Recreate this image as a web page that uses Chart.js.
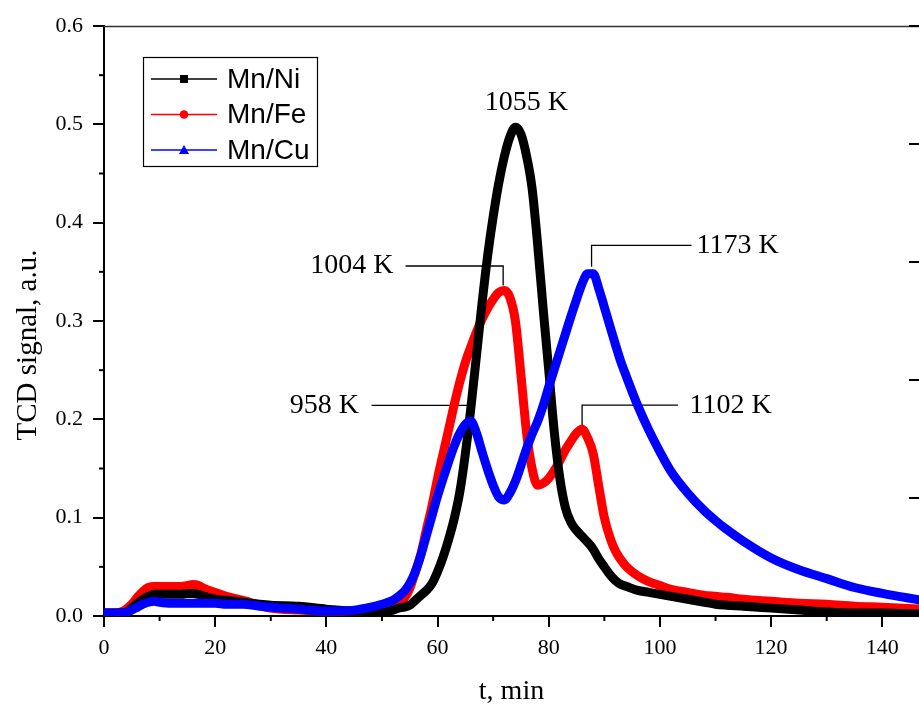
<!DOCTYPE html>
<html>
<head>
<meta charset="utf-8">
<script src="https://cdn.jsdelivr.net/npm/chart.js@4.4.1/dist/chart.umd.min.js"></script>
<style>
  html, body { margin: 0; padding: 0; background: #ffffff; }
  #wrap { width: 919px; height: 706px; }
</style>
</head>
<body>
<div id="wrap"><canvas id="tpr" width="919" height="706"></canvas></div>
<script>
// Time axis, min
const timeMin = [0,2,3,4,5,6,7,8,9,10,12,14,15,16,17,18,20,22,25,28,30,35,40,45,48,50,52,53,54,55,56,57,58,59,
  60,61,62,63,64,65,66,67,68,69,70,71,72,73,74,75,76,77,78,79,80,81,82,83,84,85,86,87,88,89,90,91,92,93,94,
  96,98,100,102,105,108,110,112,115,120,125,130,135,140,147];

// TCD signal, a.u.
const mnNi = [0.003,0.003,0.003,0.004,0.008,0.013,0.017,0.020,0.022,0.022,0.022,0.022,0.023,0.023,0.022,0.020,0.017,0.016,0.014,0.012,0.011,0.010,0.007,0.005,0.005,0.004,0.006,0.008,0.009,0.011,0.016,0.021,0.026,0.033,
  0.045,0.060,0.078,0.099,0.126,0.165,0.212,0.265,0.318,0.366,0.406,0.440,0.467,0.487,0.497,0.490,0.468,0.435,0.378,0.312,0.250,0.187,0.140,0.110,0.095,0.087,0.081,0.075,0.068,0.058,0.050,0.042,0.036,0.032,0.030,
  0.026,0.024,0.022,0.020,0.017,0.014,0.012,0.011,0.010,0.008,0.006,0.004,0.003,0.003,0.002];

const mnFe = [0.003,0.003,0.004,0.007,0.012,0.019,0.025,0.029,0.030,0.030,0.030,0.030,0.031,0.032,0.031,0.028,0.024,0.020,0.016,0.011,0.008,0.006,0.005,0.005,0.006,0.008,0.011,0.014,0.018,0.028,0.045,0.063,0.088,0.112,
  0.140,0.165,0.190,0.215,0.238,0.258,0.274,0.289,0.302,0.313,0.322,0.329,0.331,0.324,0.300,0.245,0.187,0.150,0.133,0.135,0.140,0.148,0.158,0.169,0.178,0.186,0.190,0.181,0.165,0.132,0.100,0.080,0.066,0.057,0.050,
  0.041,0.035,0.031,0.027,0.024,0.021,0.020,0.019,0.017,0.015,0.013,0.012,0.010,0.009,0.007];

const mnCu = [0.003,0.003,0.003,0.004,0.006,0.009,0.012,0.014,0.015,0.014,0.013,0.013,0.013,0.013,0.013,0.013,0.013,0.012,0.012,0.010,0.009,0.007,0.005,0.006,0.009,0.012,0.016,0.020,0.025,0.033,0.045,0.062,0.082,0.102,
  0.122,0.140,0.157,0.173,0.186,0.195,0.198,0.186,0.167,0.149,0.133,0.121,0.118,0.125,0.137,0.153,0.170,0.185,0.198,0.214,0.233,0.251,0.269,0.287,0.305,0.322,0.338,0.348,0.348,0.333,0.314,0.295,0.276,0.258,0.243,
  0.214,0.189,0.167,0.147,0.125,0.107,0.097,0.088,0.076,0.059,0.047,0.038,0.029,0.023,0.016];

const seriesNames = ['Mn/Ni', 'Mn/Fe', 'Mn/Cu'];

// Peak temperatures marked on the curves
const peakLabels = ['1055 K', '1004 K', '958 K', '1173 K', '1102 K'];
const peakTimes  = [74.1, 71.8, 65.5, 87.7, 86.0];
const peakValues = [0.497, 0.331, 0.198, 0.348, 0.190];

// Axis ranges
const xRange = [0, 146.6];
const yRange = [0, 0.6];
const rightAxisRange = [0, 5];

const SERIF = '"Liberation Serif", "Times New Roman", serif';
const SANS = '"Liberation Sans", Arial, sans-serif';

function pts(values) {
  return values.map((v, i) => ({ x: timeMin[i], y: v }));
}

// Leader lines for the peak labels: side, gap above peak, rise, run
const leaderStyle = [
  { side: 'none',  rise: 25, dx: 10.5 },
  { side: 'left',  gap: 5, rise: 24.5, run: 97.6, pad: 12 },
  { side: 'left',  gap: 2, rise: 16,   run: 96.6, pad: 12.5 },
  { side: 'right', gap: 7, rise: 28.5, run: 100,  pad: 5 },
  { side: 'right', gap: 3, rise: 24,   run: 96,   pad: 11.5 }
];

const framePlugin = {
  id: 'frame',
  beforeDatasetsDraw(chart) {
    const { ctx, scales } = chart;
    const xs = scales.x, ys = scales.y;
    ctx.save();
    // peak leader lines
    ctx.strokeStyle = '#000';
    ctx.lineWidth = 1.3;
    peakLabels.forEach((lab, i) => {
      const st = leaderStyle[i];
      if (st.side === 'none') return;
      const px = xs.getPixelForValue(peakTimes[i]);
      const py = ys.getPixelForValue(peakValues[i]);
      const ly = py - st.rise;
      const ex = st.side === 'left' ? px - st.run : px + st.run;
      ctx.beginPath();
      ctx.moveTo(px, py - st.gap);
      ctx.lineTo(px, ly);
      ctx.lineTo(ex, ly);
      ctx.stroke();
    });
    ctx.restore();
  },
  afterDatasetsDraw(chart) {
    const { ctx, chartArea: a, scales } = chart;
    const xs = scales.x, ys = scales.y, yr = scales.y2;
    ctx.save();
    // top frame line
    ctx.strokeStyle = '#333';
    ctx.lineWidth = 1.3;
    ctx.beginPath();
    ctx.moveTo(a.left, a.top + 0.5);
    ctx.lineTo(a.right, a.top + 0.5);
    ctx.stroke();

    // minor ticks
    ctx.strokeStyle = '#000';
    ctx.lineWidth = 2;
    for (let v = 10; v < xRange[1]; v += 20) {
      const x = xs.getPixelForValue(v);
      ctx.beginPath(); ctx.moveTo(x, a.bottom); ctx.lineTo(x, a.bottom + 5); ctx.stroke();
    }
    for (let v = 0.05; v < yRange[1]; v += 0.1) {
      const y = ys.getPixelForValue(v);
      ctx.beginPath(); ctx.moveTo(a.left, y); ctx.lineTo(a.left - 5, y); ctx.stroke();
    }
    // right axis ticks (inward)
    yr.ticks.forEach(t => {
      const y = yr.getPixelForValue(t.value);
      ctx.beginPath(); ctx.moveTo(a.right, y); ctx.lineTo(a.right - 10, y); ctx.stroke();
    });

    // peak labels
    ctx.fillStyle = '#000';
    ctx.font = '28px ' + SERIF;
    ctx.textBaseline = 'middle';
    peakLabels.forEach((lab, i) => {
      const st = leaderStyle[i];
      const px = xs.getPixelForValue(peakTimes[i]);
      const py = ys.getPixelForValue(peakValues[i]);
      const ly = py - st.rise;
      if (st.side === 'none') {
        ctx.textAlign = 'center';
        ctx.fillText(lab, px + st.dx, ly);
      } else if (st.side === 'left') {
        ctx.textAlign = 'right';
        ctx.fillText(lab, px - st.run - st.pad, ly);
      } else {
        ctx.textAlign = 'left';
        ctx.fillText(lab, px + st.run + st.pad, ly);
      }
    });

    // y axis title
    ctx.save();
    ctx.translate(28, (a.top + a.bottom) / 2 + 24);
    ctx.rotate(-Math.PI / 2);
    ctx.textAlign = 'center';
    ctx.textBaseline = 'middle';
    ctx.font = '29px ' + SERIF;
    ctx.fillText('TCD signal, a.u.', 0, 0);
    ctx.restore();

    // legend
    const bx = a.left + 39, by = a.top + 31, bw = 174, bh = 109;
    ctx.fillStyle = '#fff';
    ctx.fillRect(bx, by, bw, bh);
    ctx.strokeStyle = '#000';
    ctx.lineWidth = 1.2;
    ctx.strokeRect(bx + 0.5, by + 0.5, bw, bh);
    chart.data.datasets.forEach((ds, i) => {
      const ry = by + 22 + i * 35.5;
      const lx0 = bx + 8, lx1 = bx + 74, mx = bx + 41;
      ctx.strokeStyle = ds.borderColor;
      ctx.lineWidth = 1.5;
      ctx.beginPath(); ctx.moveTo(lx0, ry); ctx.lineTo(lx1, ry); ctx.stroke();
      ctx.fillStyle = ds.borderColor;
      ctx.beginPath();
      if (i === 0) {
        ctx.rect(mx - 4, ry - 4, 8, 8);
      } else if (i === 1) {
        ctx.arc(mx, ry, 4.3, 0, Math.PI * 2);
      } else {
        ctx.moveTo(mx, ry - 5); ctx.lineTo(mx + 5, ry + 4); ctx.lineTo(mx - 5, ry + 4); ctx.closePath();
      }
      ctx.fill();
      ctx.fillStyle = '#000';
      ctx.font = '28px ' + SANS;
      ctx.textAlign = 'left';
      ctx.textBaseline = 'middle';
      ctx.fillText(ds.label, bx + 84, ry + 1);
    });
    ctx.restore();
  }
};

const lineStyle = { pointRadius: 0, borderWidth: 9, fill: false, cubicInterpolationMode: 'monotone',
  borderJoinStyle: 'round', borderCapStyle: 'round' };

new Chart(document.getElementById('tpr'), {
  type: 'line',
  data: {
    datasets: [
      Object.assign({ label: seriesNames[0], data: pts(mnNi), borderColor: '#000000', backgroundColor: '#000000', order: 1 }, lineStyle),
      Object.assign({ label: seriesNames[1], data: pts(mnFe), borderColor: '#ff0000', backgroundColor: '#ff0000', order: 2 }, lineStyle),
      Object.assign({ label: seriesNames[2], data: pts(mnCu), borderColor: '#0000ff', backgroundColor: '#0000ff', order: 0 }, lineStyle)
    ]
  },
  options: {
    responsive: false,
    animation: false,
    devicePixelRatio: 1,
    layout: { padding: { top: 26, left: 0, right: 0, bottom: 0 } },
    plugins: { legend: { display: false }, tooltip: { enabled: false } },
    scales: {
      x: {
        type: 'linear',
        min: xRange[0], max: xRange[1],
        afterFit: s => { s.height = 90; },
        border: { display: true, color: '#000', width: 2 },
        grid: { drawOnChartArea: false, drawTicks: true, tickLength: 11, lineWidth: 2, color: '#000' },
        ticks: { stepSize: 20, includeBounds: false, autoSkip: false, maxRotation: 0, padding: 8,
                 color: '#000', font: { family: SERIF, size: 22 } },
        title: { display: true, text: 't, min', color: '#000',
                 font: { family: SERIF, size: 28, lineHeight: 1 }, padding: { top: 0, bottom: 0 } }
      },
      y: {
        type: 'linear',
        position: 'left',
        min: yRange[0], max: yRange[1],
        afterFit: s => { s.width = 104; },
        border: { display: true, color: '#000', width: 2 },
        grid: { drawOnChartArea: false, drawTicks: true, tickLength: 11, lineWidth: 2, color: '#000' },
        ticks: { stepSize: 0.1, includeBounds: false, padding: 10, color: '#000',
                 font: { family: SERIF, size: 22 },
                 callback: v => Number(v).toFixed(1) }
      },
      y2: {
        type: 'linear',
        position: 'right',
        min: rightAxisRange[0], max: rightAxisRange[1],
        afterFit: s => { s.width = 0; },
        border: { display: false },
        grid: { display: false },
        ticks: { display: false, stepSize: 1 }
      }
    }
  },
  plugins: [framePlugin]
});
</script>
</body>
</html>
